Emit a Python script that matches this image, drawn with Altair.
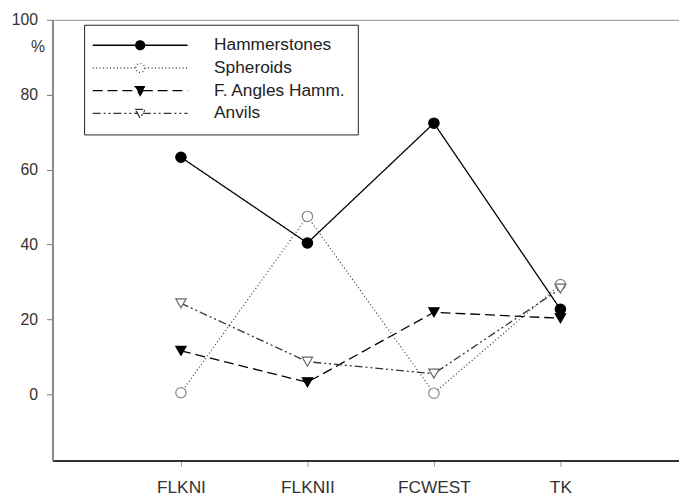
import altair as alt
import pandas as pd

sites = ["FLKNI", "FLKNII", "FCWEST", "TK"]
series_names = ["Hammerstones", "Spheroids", "F. Angles Hamm.", "Anvils"]
hammerstones = [63.3, 40.4, 72.4, 22.7]
spheroids = [0.4, 47.5, 0.3, 29.3]
f_angles_hamm = [11.6, 3.2, 21.9, 20.3]
anvils = [24.3, 8.7, 5.5, 28.2]
y_ticks = [0, 20, 40, 60, 80, 100]

rows = []
for name, vals in zip(series_names, [hammerstones, spheroids, f_angles_hamm, anvils]):
    for i, (s, v) in enumerate(zip(sites, vals)):
        rows.append({"site": s, "idx": i, "series": name, "value": v})
df = pd.DataFrame(rows)

FONT = "Liberation Sans"

line_colors = ["#000000", "#444444", "#000000", "#333333"]
dashes = [[1, 0], [1, 2.5], [10, 5], [8, 3, 2, 3, 2, 3]]
fills = ["#000000", "#ffffff", "#000000", "#ffffff"]

# legend symbols: line with a marker in the middle (unit coords scaled by sqrt(size)/2)
circ = "M0.75,0A0.75,0.75,0,1,1,-0.75,0A0.75,0.75,0,1,1,0.75,0Z"
tri = "M-0.85,-0.7L0.85,-0.7L0,0.8Z"
leg_paths = [
    "M-8,0L-0.75,0M0.75,0L8,0" + circ,
    "M-8,0L-0.75,0M0.75,0L8,0" + circ,
    "M-8,0L-0.45,0M0.45,0L8,0" + tri,
    "M-8,0L-0.45,0M0.45,0L8,0" + tri,
]

x_enc = alt.X(
    "site:N",
    sort=sites,
    scale=alt.Scale(type="point", domain=sites, padding=0.9766, align=0.52),
    axis=alt.Axis(
        title=None, labelAngle=0, grid=False,
        domainColor="#000000", domainWidth=1.5,
        tickColor="#999999", tickSize=6, tickWidth=1,
        labelFont=FONT, labelFontSize=17.5, labelColor="#333333", labelPadding=12,
    ),
)
y_enc = alt.Y(
    "value:Q",
    scale=alt.Scale(domain=[-17.7, 100], nice=False, zero=False),
    axis=alt.Axis(
        values=y_ticks, grid=False,
        domainColor="#888888", domainWidth=2,
        tickColor="#777777", tickSize=6, tickWidth=1,
        labelFont=FONT, labelFontSize=16, labelColor="#333333", labelPadding=9,
        title="%", titleAngle=0, titleX=-8, titleY=27, titleAlign="right",
        titleBaseline="middle", titleFont=FONT, titleFontSize=16,
        titleFontWeight="normal", titleColor="#333333",
    ),
)

legend_spec = alt.Legend(
    orient="none", legendX=32, legendY=5, title=None,
    padding=12, strokeColor="#222222", fillColor="#ffffff",
    symbolSize=144, symbolStrokeWidth=1.3, symbolOffset=36, symbolFillColor="#ffffff",
    symbolOpacity=1,
    labelOffset=66, labelFont=FONT, labelFontSize=17.5, labelColor="#222222",
    labelLimit=300, rowPadding=4,
)

stroke_scale = alt.Scale(domain=series_names, range=line_colors)
dash_scale = alt.Scale(domain=series_names, range=dashes)

base = alt.Chart(df)

lines = base.mark_line(strokeWidth=1.3).encode(
    x=x_enc,
    y=y_enc,
    stroke=alt.Stroke("series:N", scale=stroke_scale, legend=legend_spec),
    strokeDash=alt.StrokeDash("series:N", scale=dash_scale, legend=legend_spec),
    order=alt.Order("idx:Q"),
)

marker_styles = [
    ("Hammerstones", "circle", "#000000", "#000000"),
    ("Spheroids", "circle", "#ffffff", "#888888"),
    ("F. Angles Hamm.", "triangle-down", "#000000", "#000000"),
    ("Anvils", "triangle-down", "#ffffff", "#666666"),
]
markers = []
for name, shp, fc, sc in marker_styles:
    markers.append(
        base.transform_filter(alt.datum.series == name)
        .mark_point(shape=shp, filled=True, fill=fc, stroke=sc, strokeWidth=1.2,
                    size=110, opacity=1)
        .encode(x=x_enc, y=y_enc)
    )

leg = base.transform_filter("false").mark_point(
    filled=True, size=144, strokeWidth=1.3, opacity=1
).encode(
    x=x_enc,
    y=y_enc,
    shape=alt.Shape("series:N", scale=alt.Scale(domain=series_names, range=leg_paths), legend=legend_spec),
    fill=alt.Fill("series:N", scale=alt.Scale(domain=series_names, range=fills), legend=legend_spec),
    stroke=alt.Stroke("series:N", scale=stroke_scale, legend=legend_spec),
    strokeDash=alt.StrokeDash("series:N", scale=dash_scale, legend=legend_spec),
)

chart = alt.layer(lines, *markers, leg).properties(
    width=634,
    height=446,
    autosize=alt.AutoSizeParams(type="none"),
    padding={"left": 45, "top": 9, "right": 0, "bottom": 40},
).configure_view(stroke="#888888", strokeWidth=1)

chart.save("out.html", embed_options={"renderer": "svg", "actions": False})
